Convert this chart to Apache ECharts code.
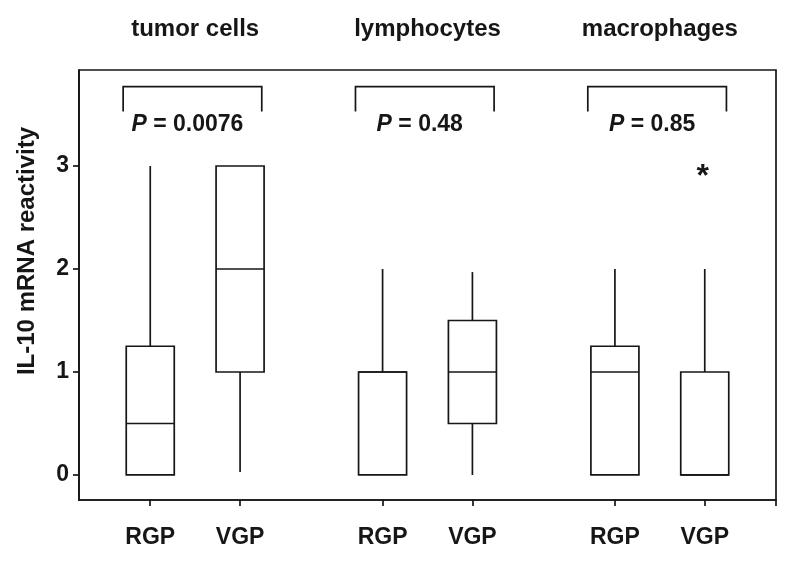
<!DOCTYPE html>
<html><head><meta charset="utf-8">
<script src="https://cdn.jsdelivr.net/npm/echarts@6/dist/echarts.min.js"></script>
<style>html,body{margin:0;padding:0;background:#fff}#c{width:800px;height:568px}</style>
</head><body><div id="c"></div>
<script>
// ---- data ----
const groups = ['tumor cells', 'lymphocytes', 'macrophages'];
const phases = ['RGP', 'VGP'];
const pValues = ['0.0076', '0.48', '0.85'];
// [min, Q1, median, Q3, max] per group
const rgpStats = [[0, 0, 0.5, 1.25, 3], [0, 0, 1, 1, 2], [0, 0, 1, 1.25, 2]];
const vgpStats = [[0.03, 1, 2, 3, 3], [0, 0.5, 1, 1.5, 1.97], [0, 0, 0, 1, 2]];
// outliers: [groupIndex, phaseIndex, value]
const outliers = [[2, 1, 2.94]];
const yTicks = [0, 1, 2, 3];

// ---- layout ----
const FONT = "'Liberation Sans', Arial, Helvetica, sans-serif";
const INK = '#161616';
const GROUP_STEP = 3, PAIR_OFF = 0.58, BOX_HALF = 0.31;
const BR_TOP = 3.77, BR_BOT = 3.53, P_Y = 3.40;
function xPos(g, p) { return 1.5 + GROUP_STEP * g + (p ? PAIR_OFF : -PAIR_OFF); }

const boxData = [];
groups.forEach((g, i) => {
  boxData.push([xPos(i, 0)].concat(rgpStats[i]));
  boxData.push([xPos(i, 1)].concat(vgpStats[i]));
});
const bracketData = groups.map((g, i) => [xPos(i, 0) - BOX_HALF - 0.04, xPos(i, 1) + BOX_HALF - 0.03, BR_TOP, BR_BOT]);
const pData = groups.map((g, i) => [1.5 + GROUP_STEP * i - 0.1, P_Y, i]);
const outData = outliers.map(o => [xPos(o[0], o[1]), o[2]]);
const tickPositions = [];
groups.forEach((g, i) => { tickPositions.push(xPos(i, 0), xPos(i, 1)); });

const lineStyle = { stroke: INK, lineWidth: 1.7, fill: 'none' };

function renderBox(params, api) {
  const x = api.value(0);
  const mn = api.value(1), q1 = api.value(2), md = api.value(3), q3 = api.value(4), mx = api.value(5);
  const tl = api.coord([x - BOX_HALF, q3]);
  const br = api.coord([x + BOX_HALF, q1]);
  const cx = api.coord([x, 0])[0];
  const ym = api.coord([x, md])[1];
  const children = [{
    type: 'rect',
    shape: { x: tl[0], y: tl[1], width: br[0] - tl[0], height: br[1] - tl[1] },
    style: lineStyle
  }, {
    type: 'line', shape: { x1: tl[0], y1: ym, x2: br[0], y2: ym }, style: lineStyle
  }];
  if (mx > q3) children.push({ type: 'line', shape: { x1: cx, y1: api.coord([x, mx])[1], x2: cx, y2: tl[1] }, style: lineStyle });
  if (mn < q1) children.push({ type: 'line', shape: { x1: cx, y1: br[1], x2: cx, y2: api.coord([x, mn])[1] }, style: lineStyle });
  return { type: 'group', children };
}

function renderBracket(params, api) {
  const a = api.coord([api.value(0), api.value(2)]);
  const b = api.coord([api.value(1), api.value(3)]);
  return {
    type: 'polyline',
    shape: { points: [[a[0], b[1]], [a[0], a[1]], [b[0], a[1]], [b[0], b[1]]] },
    style: lineStyle
  };
}

function renderP(params, api) {
  const p = api.coord([api.value(0), api.value(1)]);
  const idx = api.value(2);
  return {
    type: 'text',
    x: p[0], y: p[1],
    style: {
      text: '{i|P}{n| = ' + pValues[idx] + '}',
      align: 'center', verticalAlign: 'middle',
      rich: {
        i: { fontStyle: 'italic', fontWeight: 'bold', fontSize: 23, fontFamily: FONT, fill: INK },
        n: { fontWeight: 'bold', fontSize: 23, fontFamily: FONT, fill: INK }
      }
    }
  };
}

function renderOut(params, api) {
  const p = api.coord([api.value(0), api.value(1)]);
  return {
    type: 'text', x: p[0] - 2, y: p[1] + 5,
    style: { text: '*', align: 'center', verticalAlign: 'middle', font: 'bold 32px ' + FONT, fill: INK }
  };
}

function phaseOf(v) {
  const r = v - (1.5 + GROUP_STEP * Math.round((v - 1.5) / GROUP_STEP));
  return r < 0 ? phases[0] : phases[1];
}

const chart = echarts.init(document.getElementById('c'), null, { renderer: 'canvas' });
chart.setOption({
  animation: false,
  backgroundColor: '#fff',
  grid: { left: 79, right: 24, top: 70, bottom: 68, show: true, borderColor: INK, borderWidth: 1.7, backgroundColor: 'transparent' },
  xAxis: [{
    type: 'value', min: 0, max: 9, position: 'bottom',
    axisLine: { show: true, onZero: false, lineStyle: { color: INK, width: 1.7 } },
    axisTick: { show: true, customValues: tickPositions.concat([9]), length: 6, lineStyle: { color: INK, width: 1.7 } },
    axisLabel: { customValues: tickPositions, formatter: v => phaseOf(v), margin: 26, fontSize: 23, fontWeight: 'bold', fontFamily: FONT, color: INK },
    splitLine: { show: false }
  }, {
    type: 'value', min: 0, max: 9, position: 'top',
    axisLine: { show: false, onZero: false }, axisTick: { show: false },
    axisLabel: {
      customValues: groups.map((g, i) => 1.5 + GROUP_STEP * i),
      formatter: v => groups[Math.round((v - 1.5) / GROUP_STEP)],
      margin: 29, fontSize: 24, fontWeight: 'bold', fontFamily: FONT, color: INK
    },
    splitLine: { show: false }
  }],
  yAxis: {
    type: 'value', min: -0.243, max: 3.932,
    name: 'IL-10 mRNA reactivity', nameLocation: 'middle', nameGap: 40, nameRotate: 90,
    nameTextStyle: { fontSize: 24, fontWeight: 'bold', fontFamily: FONT, color: INK, padding: [0, 0, 0, 68] },
    axisLine: { show: true, onZero: false, lineStyle: { color: INK, width: 1.7 } },
    axisTick: { show: true, customValues: yTicks, length: 6, lineStyle: { color: INK, width: 1.7 } },
    axisLabel: { customValues: yTicks, margin: 10, fontSize: 23, fontWeight: 'bold', fontFamily: FONT, color: INK },
    splitLine: { show: false }
  },
  series: [
    { type: 'custom', name: 'boxes', renderItem: renderBox, data: boxData, encode: { x: 0, y: [1, 2, 3, 4, 5] }, clip: false },
    { type: 'custom', name: 'brackets', renderItem: renderBracket, data: bracketData, encode: { x: [0, 1], y: [2, 3] }, clip: false },
    { type: 'custom', name: 'p', renderItem: renderP, data: pData, encode: { x: 0, y: 1 }, clip: false },
    { type: 'custom', name: 'outliers', renderItem: renderOut, data: outData, encode: { x: 0, y: 1 }, clip: false }
  ]
});
</script>
</body></html>
